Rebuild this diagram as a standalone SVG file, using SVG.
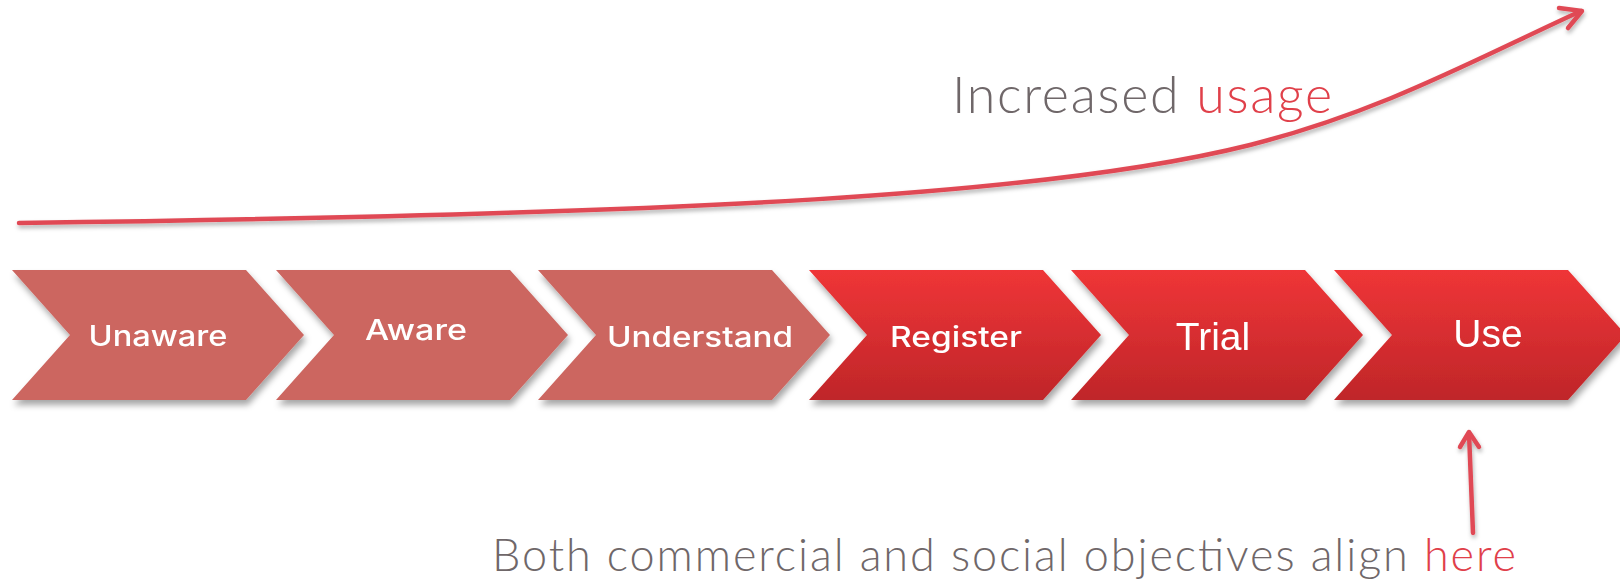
<svg xmlns="http://www.w3.org/2000/svg" width="1620" height="581" viewBox="0 0 1620 581">
  <style>
    .soft { fill: #cc6660; }
    .hot { fill: url(#hotGrad); }
    .lbl { font-family: Inter, "Open Sans", "Liberation Sans", sans-serif; font-weight: 500; font-size: 28px; fill: #ffffff; text-anchor: middle; }
    .lbl2 { font-family: "Liberation Sans", Arial, sans-serif; font-size: 39px; fill: #ffffff; text-anchor: middle; }
    .cap { font-family: Lato, "Open Sans", sans-serif; font-weight: 300; fill: #6f6769; }
    .accent { fill: #e0404a; }
    .arrow { fill: none; stroke: #e04a55; stroke-width: 4.5; stroke-linecap: round; stroke-linejoin: round; }
  </style>
  <defs>
    <linearGradient id="hotGrad" x1="0" y1="0" x2="0" y2="1">
      <stop offset="0" stop-color="#ef3537"/>
      <stop offset="1" stop-color="#bf2629"/>
    </linearGradient>
    <filter id="shadow" x="-10%" y="-20%" width="120%" height="150%">
      <feDropShadow dx="2" dy="5" stdDeviation="3" flood-color="#000" flood-opacity="0.35"/>
    </filter>
    <filter id="lineShadow" x="-5%" y="-20%" width="110%" height="160%">
      <feDropShadow dx="1" dy="3" stdDeviation="2" flood-color="#000" flood-opacity="0.3"/>
    </filter>
    <!-- one chevron, origin at its top-left corner -->
    <path id="chev" d="M0,0 H234 L292,65 L234,130 H0 L58,65 Z"/>
  </defs>

  <!-- stages -->
  <g id="stage-unaware" filter="url(#shadow)">
    <use href="#chev" x="12" y="270" class="soft"/>
    <text class="lbl" x="158" y="346" textLength="139" lengthAdjust="spacingAndGlyphs">Unaware</text>
  </g>
  <g id="stage-aware" filter="url(#shadow)">
    <use href="#chev" x="276" y="270" class="soft"/>
    <text class="lbl" x="416" y="340" textLength="102" lengthAdjust="spacingAndGlyphs">Aware</text>
  </g>
  <g id="stage-understand" filter="url(#shadow)">
    <use href="#chev" x="538" y="270" class="soft"/>
    <text class="lbl" x="700" y="347" textLength="186" lengthAdjust="spacingAndGlyphs">Understand</text>
  </g>
  <g id="stage-register" filter="url(#shadow)">
    <use href="#chev" x="809" y="270" class="hot"/>
    <text class="lbl" x="956" y="347" textLength="132" lengthAdjust="spacingAndGlyphs">Register</text>
  </g>
  <g id="stage-trial" filter="url(#shadow)">
    <use href="#chev" x="1071" y="270" class="hot"/>
    <text class="lbl2" x="1213" y="350">Trial</text>
  </g>
  <g id="stage-use" filter="url(#shadow)">
    <use href="#chev" x="1334" y="270" class="hot"/>
    <text class="lbl2" x="1488" y="347">Use</text>
  </g>

  <!-- connectors -->
  <g id="connectors" filter="url(#lineShadow)">
    <path class="arrow" d="M19,223 C700,214 1050,195 1250,145 C1380,112 1470,62 1581,11"/>
    <path class="arrow" d="M1559,8 L1582,11 L1568,28"/>
    <path class="arrow" d="M1473,533 L1469,433"/>
    <path class="arrow" d="M1460,447 L1469,432 L1479,447"/>
  </g>

  <!-- captions -->
  <g id="caption-usage">
    <text class="cap" x="952" y="113" font-size="52" textLength="380" lengthAdjust="spacing">Increased <tspan class="accent">usage</tspan></text>
  </g>
  <g id="caption-align">
    <text class="cap" x="492" y="571" font-size="45" textLength="1024" lengthAdjust="spacing">Both commercial and social objectives align <tspan class="accent">here</tspan></text>
  </g>
</svg>
